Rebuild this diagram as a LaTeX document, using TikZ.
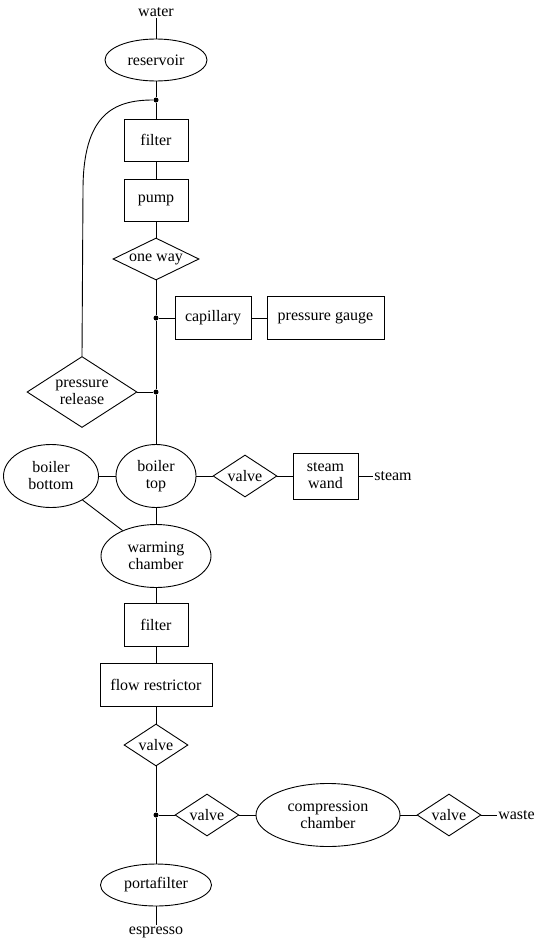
\documentclass[tikz,border=0pt]{standalone}
\usepackage{fontspec}
\setmainfont{Liberation Serif}
\usetikzlibrary{shapes.geometric}
\begin{document}
\begin{tikzpicture}[x=1pt, y=-1pt, line width=0.9pt,
        font=\fontsize{16}{17}\selectfont,
        box/.style={draw, rectangle, inner sep=0pt, align=center},
        oval/.style={draw, ellipse, inner sep=0pt, align=center},
        gate/.style={draw, diamond, inner sep=0pt, aspect=1.5, align=center},
        joint/.style={circle, fill, inner sep=0pt, minimum size=5pt},
        tag/.style={inner sep=1pt}]
        \useasboundingbox (0,0) rectangle (540,945);
        % main line
        \node[tag] (water) at (156,12) {water};
        \node[oval, minimum width=102pt, minimum height=42pt] (reservoir) at (156,60) {reservoir};
        \node[joint] (j1) at (156,100) {};
        \node[box, minimum width=64pt, minimum height=42pt] (filterA) at (156,140) {filter};
        \node[box, minimum width=64pt, minimum height=42pt] (pump) at (156,200) {pump};
        \node[gate, aspect=2.1, minimum width=86pt, minimum height=42pt] (oneway) at (156,259) {one way};
        \node[joint] (j2) at (156,318) {};
        \node[box, minimum width=76pt, minimum height=43pt] (capillary) at (213,318) {capillary};
        \node[box, minimum width=117pt, minimum height=43pt] (gauge) at (325.5,318) {pressure gauge};
        \node[gate, aspect=1.55, minimum width=110pt, minimum height=71pt] (release) at (82,392) {pressure\\release};
        \node[joint] (j3) at (156,392) {};
        \node[oval, minimum width=95pt, minimum height=63pt] (bottom) at (51,476) {boiler\\bottom};
        \node[oval, minimum width=80pt, minimum height=63pt] (top) at (156,476) {boiler\\top};
        \node[gate, minimum width=64pt, minimum height=42pt] (valveA) at (245,476) {valve};
        \node[box, minimum width=65pt, minimum height=46pt] (wand) at (325.5,476) {steam\\wand};
        \node[tag] (steam) at (393,476) {steam};
        \node[oval, minimum width=110pt, minimum height=63pt] (warming) at (156,556) {warming\\chamber};
        \node[box, minimum width=64pt, minimum height=43pt] (filterB) at (156,625) {filter};
        \node[box, minimum width=112pt, minimum height=43pt] (restrictor) at (156,685) {flow restrictor};
        \node[gate, minimum width=64pt, minimum height=42pt] (valveB) at (156,745) {valve};
        \node[joint] (j4) at (156,815) {};
        \node[gate, minimum width=64pt, minimum height=42pt] (valveC) at (207,815) {valve};
        \node[oval, minimum width=144pt, minimum height=63pt] (compression) at (328,815) {compression\\chamber};
        \node[gate, minimum width=64pt, minimum height=42pt] (valveD) at (449,815) {valve};
        \node[tag] (waste) at (516.5,815) {waste};
        \node[oval, minimum width=111pt, minimum height=42pt] (portafilter) at (156,885) {portafilter};
        \node[tag] (espresso) at (156,932) {espresso};
        \coordinate (bend) at (83,190);
        % connectors
        \draw (water) -- (reservoir) -- (j1) -- (filterA) -- (pump) -- (oneway) -- (j2) -- (j3) -- (top);
        \draw (j2) -- (capillary) -- (gauge);
        \draw (j3) -- (release.east);
        \draw (release.north) -- (bend) .. controls +(0,-75) and +(-40,0) .. (j1.west);
        \draw (bottom) -- (top) -- (valveA) -- (wand) -- (steam);
        \draw (top) -- (warming);
        \draw (bottom) -- (warming);
        \draw (warming) -- (filterB) -- (restrictor) -- (valveB) -- (j4) -- (portafilter) -- (espresso);
        \draw (j4) -- (valveC) -- (compression) -- (valveD) -- (waste);
    \end{tikzpicture}
\end{document}
